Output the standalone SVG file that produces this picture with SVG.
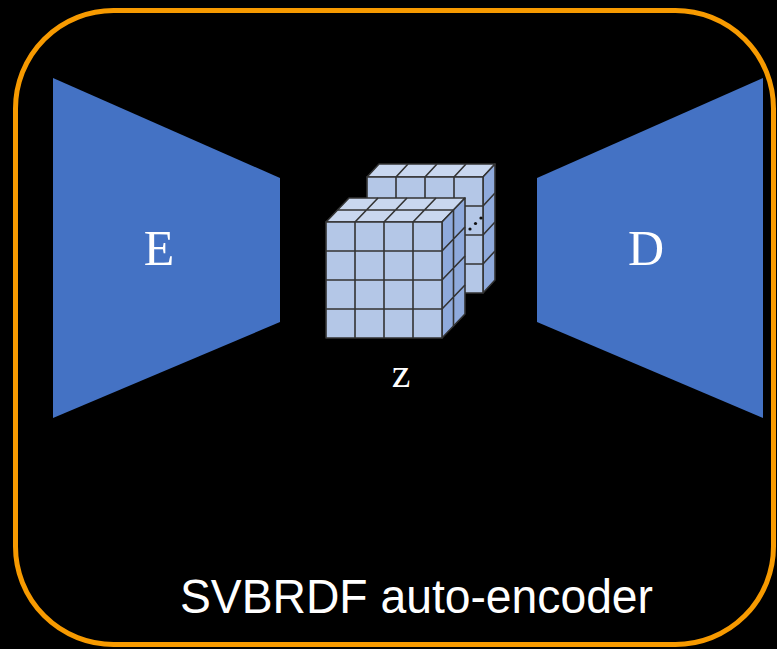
<svg xmlns="http://www.w3.org/2000/svg" width="777" height="649" viewBox="0 0 777 649">
<style>
.bg{fill:#000}
.frame{fill:none;stroke:#F79A00;stroke-width:5}
.trap{fill:#4472C4}
.lbl{font-family:"Liberation Serif","DejaVu Serif",serif;fill:#fff;text-anchor:middle}
.front{fill:#B4C7E7;stroke:#333;stroke-width:1.6;stroke-linejoin:round}
.top{fill:#C9D7EF;stroke:#333;stroke-width:1.6;stroke-linejoin:round}
.side{fill:#8FAADC;stroke:#333;stroke-width:1.6;stroke-linejoin:round}
.grid{stroke:#333;stroke-width:1.6;fill:none}
.cap{font-family:"Liberation Sans","Open Sans",sans-serif;fill:#fff}
</style>
<rect class="bg" x="0" y="0" width="777" height="649"/>
<rect class="frame" x="15.5" y="10.5" width="758" height="634" rx="98" ry="98"/>
<g id="encoder">
<polygon class="trap" points="53,78 280,178 280,322 53,418"/>
<text class="lbl" x="159" y="265" font-size="50">E</text>
</g>
<g id="decoder">
<polygon class="trap" points="537,178 763,78 763,418 537,322"/>
<text class="lbl" x="646" y="265" font-size="50">D</text>
</g>
<g id="latent">
<!-- back cube -->
<polygon class="top" points="367,177 483,177 495,164 379,164"/>
<polygon class="side" points="483,177 495,164 495,280 483,293"/>
<rect class="front" x="367" y="177" width="116" height="116"/>
<path class="grid" d="M396,177 L408,164 M425,177 L437,164 M454,177 L466,164 M483,206 L495,193 M483,235 L495,222 M483,264 L495,251 M396,177 V293 M425,177 V293 M454,177 V293 M367,206 H483 M367,235 H483 M367,264 H483"/>
<!-- front cube -->
<polygon class="top" points="326,222 442,222 465,198 349,198"/>
<polygon class="side" points="442,222 465,198 465,314 442,338"/>
<rect class="front" x="326" y="222" width="116" height="116"/>
<path class="grid" d="M355,222 L378,198 M384,222 L407,198 M413,222 L436,198 M337.5,210 H453.5 M442,251 L465,227 M442,280 L465,256 M442,309 L465,285 M453.5,210 V326 M355,222 V338 M384,222 V338 M413,222 V338 M326,251 H442 M326,280 H442 M326,309 H442"/>
<circle cx="470" cy="229" r="1.6" fill="#111"/>
<circle cx="475.5" cy="223.5" r="1.6" fill="#111"/>
<circle cx="481" cy="218" r="1.6" fill="#111"/>
<text class="lbl" x="401" y="387" font-size="42">z</text>
</g>
<text class="cap" x="180" y="613" font-size="48" textLength="473" lengthAdjust="spacingAndGlyphs">SVBRDF auto-encoder</text>
</svg>
